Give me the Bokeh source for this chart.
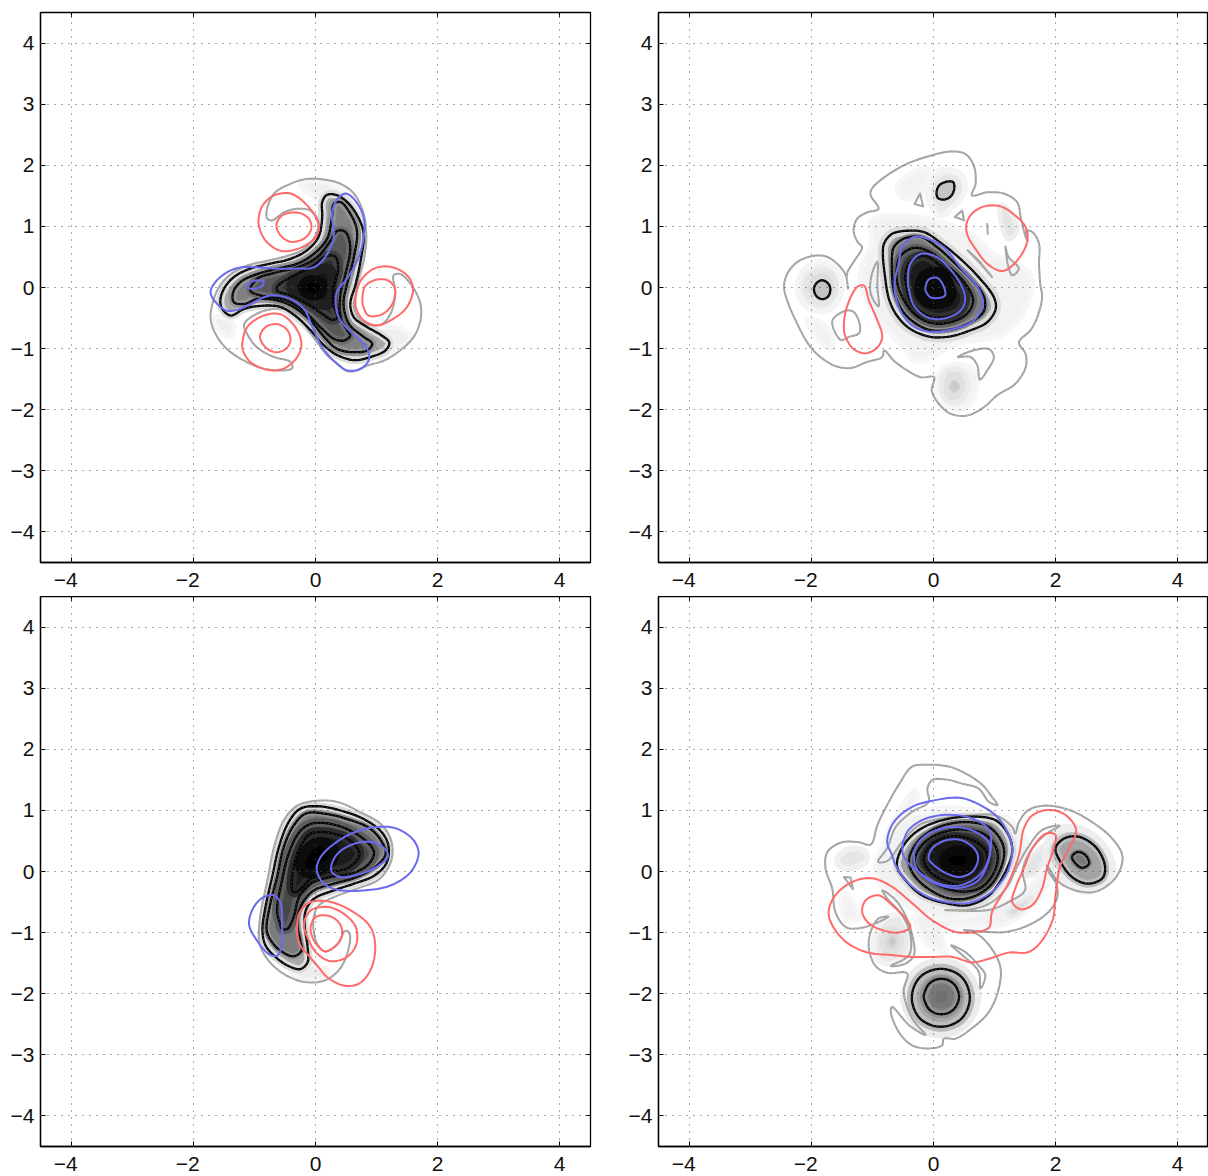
import numpy as np
from bokeh.plotting import figure
from bokeh.layouts import column, row
from bokeh.models import FixedTicker, LinearAxis, Range1d
from bokeh.embed import file_html
from bokeh.resources import INLINE

X_TICKS = [-4, -2, 0, 2, 4]
Y_TICKS = [-4, -3, -2, -1, 0, 1, 2, 3, 4]
TICK_LABELS = {-4: "\u22124", -3: "\u22123", -2: "\u22122", -1: "\u22121", 0: "0", 1: "1", 2: "2", 3: "3", 4: "4"}

# ---- panel A (top left) ----
A_GRAY = [(-0.08,1.26),(-0.30,1.29),(-0.52,1.23),(-0.71,1.10),(-0.79,1.13),(-0.80,1.26),(-0.68,1.54),(-0.41,1.70),(-0.14,1.78),(0.14,1.77),(0.41,1.70),(0.63,1.54),(0.79,1.21),(0.83,0.83),(0.79,0.44),(0.71,0.17),(0.66,-0.10),(0.63,-0.32),(0.74,-0.54),(0.93,-0.62),(1.09,-0.60),(1.23,-0.43),(1.31,-0.10),(1.28,0.20),(1.39,0.22),(1.58,0.03),(1.72,-0.27),(1.72,-0.54),(1.61,-0.81),(1.39,-1.03),(1.12,-1.20),(0.85,-1.28),(0.68,-1.36),(0.52,-1.37),(0.36,-1.25),(0.19,-1.11),(0.03,-0.90),(-0.19,-0.60),(-0.41,-0.38),(-0.68,-0.35),(-0.96,-0.43),(-1.17,-0.60),(-1.12,-0.76),(-0.96,-0.98),(-0.68,-1.14),(-0.41,-1.22),(-0.38,-1.32),(-0.52,-1.36),(-0.85,-1.33),(-1.17,-1.20),(-1.45,-1.01),(-1.64,-0.76),(-1.72,-0.51),(-1.69,-0.27),(-1.58,0.01),(-1.39,0.22),(-1.12,0.36),(-0.79,0.44),(-0.46,0.52),(-0.19,0.63),(0,0.85),(0.05,1.07)]
A_K1 = [(-1.53,-0.35),(-1.56,-0.21),(-1.50,-0.02),(-1.34,0.17),(-1.07,0.31),(-0.74,0.39),(-0.41,0.47),(-0.14,0.61),(0.05,0.83),(0.11,1.15),(0.11,1.40),(0.19,1.52),(0.36,1.51),(0.55,1.37),(0.71,1.13),(0.79,0.88),(0.74,0.44),(0.66,0.06),(0.57,-0.27),(0.63,-0.49),(0.85,-0.65),(1.09,-0.79),(1.21,-0.90),(1.15,-1.03),(0.90,-1.14),(0.63,-1.19),(0.36,-1.11),(0.14,-0.95),(-0.08,-0.70),(-0.30,-0.49),(-0.57,-0.32),(-0.90,-0.30),(-1.17,-0.35),(-1.39,-0.46)]
A_K2 = [(-1.34,-0.24),(-1.35,-0.08),(-1.23,0.09),(-0.96,0.22),(-0.63,0.31),(-0.30,0.39),(-0.03,0.55),(0.19,0.80),(0.27,1.15),(0.30,1.37),(0.41,1.40),(0.57,1.21),(0.68,0.93),(0.63,0.50),(0.52,0.06),(0.46,-0.27),(0.55,-0.60),(0.79,-0.81),(0.93,-0.92),(0.85,-1.03),(0.63,-1.06),(0.36,-1.01),(0.14,-0.81),(-0.08,-0.54),(-0.36,-0.32),(-0.63,-0.21),(-0.96,-0.19),(-1.17,-0.27)]
A_K3 = [(-1.07,-0.05),(-0.96,0.14),(-0.63,0.25),(-0.30,0.33),(0.03,0.50),(0.25,0.77),(0.36,0.93),(0.49,0.91),(0.57,0.66),(0.49,0.22),(0.41,-0.10),(0.41,-0.49),(0.52,-0.70),(0.57,-0.79),(0.46,-0.87),(0.30,-0.84),(0.08,-0.65),(-0.14,-0.43),(-0.41,-0.24),(-0.68,-0.16),(-0.90,-0.13)]
A_K4 = [(-0.63,0.01),(-0.41,0.17),(-0.08,0.33),(0.19,0.52),(0.33,0.50),(0.37,0.28),(0.30,0.01),(0.29,-0.27),(0.36,-0.49),(0.27,-0.53),(0.11,-0.43),(-0.14,-0.27),(-0.41,-0.13),(-0.63,-0.05)]
A_MID = [(-0.41,0.01),(-0.22,0.20),(0.11,0.31),(0.25,0.28),(0.26,0.01),(0.22,-0.27),(0.03,-0.27),(-0.25,-0.13)]
A_CORE = [(-0.22,0.01),(-0.16,0.11),(-0.03,0.14),(0.11,0.09),(0.13,-0.02),(0.05,-0.13),(-0.11,-0.13),(-0.19,-0.08)]
A_LIGHT1 = [(0.90,-0.70),(1.18,-0.65),(1.45,-0.70),(1.56,-0.81),(1.34,-1.03),(1.01,-1.17),(0.90,-0.98)]
A_LIGHT2 = [(-1.67,-0.49),(-1.53,-0.49),(-1.34,-0.60),(-1.39,-0.81),(-1.58,-0.70)]
A_LIGHT3 = [(-0.25,1.70),(0.14,1.73),(0.52,1.56),(0.68,1.37),(0.36,1.54),(0.14,1.40),(-0.05,1.50)]
A_B1 = [(-1.72,-0.08),(-1.64,0.09),(-1.45,0.25),(-1.23,0.33),(-0.96,0.33),(-0.63,0.31),(-0.30,0.31),(-0.03,0.33),(0.16,0.50),(0.30,0.83),(0.27,1.21),(0.36,1.45),(0.49,1.54),(0.63,1.45),(0.79,1.15),(0.79,0.83),(0.71,0.50),(0.60,0.28),(0.49,0.11),(0.36,-0.05),(0.33,-0.24),(0.38,-0.49),(0.55,-0.70),(0.74,-0.87),(0.87,-1.06),(0.87,-1.20),(0.74,-1.33),(0.52,-1.36),(0.30,-1.20),(0.11,-0.98),(-0.05,-0.65),(-0.19,-0.35),(-0.41,-0.19),(-0.74,-0.13),(-1.01,-0.24),(-1.23,-0.35),(-1.45,-0.38),(-1.61,-0.27)]
A_B2 = [(-1.12,0.03),(-1.01,0.11),(-0.85,0.10),(-0.87,0.03),(-1.07,-0.02)]
A_R1 = [(-0.93,1.15),(-0.87,1.34),(-0.68,1.51),(-0.41,1.54),(-0.16,1.37),(0.03,1.10),(0.05,0.93),(-0.05,0.77),(-0.30,0.63),(-0.57,0.60),(-0.82,0.77),(-0.93,1.02)]
A_R2 = [(-0.64,1.02),(-0.55,1.18),(-0.30,1.23),(-0.11,1.13),(-0.07,0.96),(-0.19,0.80),(-0.41,0.75),(-0.57,0.85)]
A_R3 = [(0.66,-0.16),(0.74,0.11),(0.96,0.31),(1.23,0.34),(1.50,0.20),(1.60,-0.02),(1.50,-0.32),(1.28,-0.51),(1.01,-0.62),(0.79,-0.54),(0.67,-0.35)]
A_R4 = [(0.77,-0.16),(0.82,0.03),(1.01,0.13),(1.20,0.11),(1.30,-0.02),(1.26,-0.27),(1.09,-0.44),(0.87,-0.46),(0.78,-0.30)]
A_R5 = [(-1.20,-0.92),(-1.12,-0.65),(-0.85,-0.46),(-0.57,-0.44),(-0.33,-0.65),(-0.23,-0.92),(-0.30,-1.14),(-0.52,-1.33),(-0.79,-1.35),(-1.07,-1.22),(-1.19,-1.03)]
A_R6 = [(-0.91,-0.81),(-0.82,-0.65),(-0.63,-0.60),(-0.46,-0.70),(-0.41,-0.87),(-0.49,-1.01),(-0.66,-1.06),(-0.82,-0.98)]

# ---- panel B (top right) ----
B_GRAY = [(-2.45,0.01),(-2.40,0.22),(-2.23,0.42),(-1.96,0.52),(-1.74,0.50),(-1.55,0.36),(-1.44,0.20),(-1.40,-0.02),(-1.42,0.22),(-1.31,0.42),(-1.17,0.66),(-1.24,0.74),(-1.31,0.93),(-1.25,1.13),(-1.09,1.23),(-0.90,1.29),(-1.03,1.51),(-1.01,1.62),(-0.76,1.84),(-0.43,2.03),(-0.05,2.16),(0.28,2.23),(0.52,2.19),(0.66,2.00),(0.69,1.70),(0.63,1.51),(0.88,1.56),(1.15,1.54),(1.37,1.40),(1.43,1.15),(1.51,0.83),(1.54,0.77),(1.52,0.93),(1.62,0.91),(1.73,0.72),(1.73,0.39),(1.75,0.06),(1.78,-0.16),(1.70,-0.49),(1.59,-0.70),(1.40,-0.90),(1.51,-1.09),(1.51,-1.31),(1.34,-1.58),(1.04,-1.77),(0.83,-1.96),(0.55,-2.10),(0.28,-2.07),(0.09,-1.91),(-0.03,-1.69),(0.01,-1.47),(-0.21,-1.47),(-0.43,-1.36),(-0.65,-1.20),(-0.81,-1.03),(-0.84,-1.14),(-1.09,-1.22),(-1.36,-1.32),(-1.63,-1.28),(-1.91,-1.09),(-2.07,-0.90),(-2.26,-0.54),(-2.40,-0.21)]
B_H1 = [(-0.92,0.42),(-1.01,0.22),(-1.03,-0.10),(-0.90,-0.31),(-0.92,0.01)]
B_H2 = [(-1.66,-0.55),(-1.44,-0.38),(-1.31,-0.40),(-1.21,-0.60),(-1.22,-0.75),(-1.39,-0.81),(-1.52,-0.86)]
B_H3 = [(-0.22,1.54),(-0.31,1.37),(-0.17,1.33)]
B_H4 = [(0.47,1.26),(0.35,1.16),(0.50,1.10)]
B_H5 = [(0.88,1.04),(0.89,0.88)]
B_H6 = [(1.18,0.67),(1.23,0.50),(1.40,0.31),(1.29,0.20),(1.23,0.33)]
B_H7 = [(0.56,0.61),(0.74,0.44),(0.96,0.17),(0.77,0.39)]
B_H8 = [(0.40,-1.14),(0.66,-1.03),(0.91,-1.01),(0.99,-1.14),(0.88,-1.36),(0.76,-1.51),(0.72,-1.28),(0.61,-1.14)]
B_K_LEFT = [(-1.96,-0.03),(-1.92,0.07),(-1.83,0.12),(-1.73,0.07),(-1.69,-0.03),(-1.73,-0.15),(-1.83,-0.19),(-1.92,-0.14)]
B_K_TOP = [(0.05,1.56),(0.09,1.67),(0.20,1.73),(0.32,1.73),(0.34,1.62),(0.28,1.49),(0.16,1.44),(0.07,1.47)]
B_K1 = [(-0.83,0.55),(-0.81,0.72),(-0.68,0.88),(-0.43,0.93),(-0.16,0.91),(0.11,0.74),(0.44,0.47),(0.74,0.17),(0.99,-0.16),(1.02,-0.35),(0.88,-0.57),(0.61,-0.70),(0.28,-0.80),(-0.05,-0.81),(-0.38,-0.68),(-0.60,-0.46),(-0.73,-0.19),(-0.80,0.22)]
B_K2 = [(-0.68,0.50),(-0.65,0.66),(-0.49,0.80),(-0.21,0.83),(0.06,0.66),(0.39,0.36),(0.66,0.09),(0.83,-0.16),(0.83,-0.38),(0.66,-0.54),(0.33,-0.68),(-0.05,-0.70),(-0.32,-0.57),(-0.51,-0.38),(-0.65,-0.05)]
B_K3 = [(-0.60,0.33),(-0.54,0.52),(-0.32,0.65),(-0.05,0.58),(0.22,0.36),(0.50,0.09),(0.65,-0.21),(0.55,-0.43),(0.28,-0.57),(-0.05,-0.58),(-0.32,-0.43),(-0.51,-0.16),(-0.60,0.11)]
B_K4 = [(-0.46,0.22),(-0.38,0.42),(-0.16,0.52),(0.11,0.36),(0.39,0.11),(0.52,-0.16),(0.44,-0.38),(0.17,-0.49),(-0.10,-0.46),(-0.35,-0.27),(-0.44,0.01)]
B_B1 = [(-0.57,0.39),(-0.51,0.66),(-0.32,0.83),(-0.10,0.80),(0.17,0.66),(0.44,0.33),(0.72,0.01),(0.81,-0.27),(0.66,-0.54),(0.33,-0.68),(-0.10,-0.72),(-0.38,-0.60),(-0.57,-0.32),(-0.64,0.06)]
B_B2 = [(-0.42,0.11),(-0.38,0.39),(-0.21,0.55),(0.01,0.52),(0.22,0.36),(0.44,0.06),(0.52,-0.19),(0.44,-0.38),(0.17,-0.51),(-0.10,-0.49),(-0.32,-0.30),(-0.40,-0.05)]
B_B3 = [(-0.13,0.01),(-0.08,0.13),(0.06,0.16),(0.17,0.01),(0.19,-0.13),(0.09,-0.17),(-0.05,-0.16),(-0.13,-0.05)]
B_R1 = [(0.54,1.04),(0.63,1.21),(0.83,1.33),(1.10,1.33),(1.34,1.18),(1.51,0.99),(1.54,0.77),(1.43,0.52),(1.23,0.31),(1.10,0.27),(0.88,0.39),(0.69,0.63),(0.56,0.85)]
B_R2 = [(-1.47,-0.65),(-1.42,-0.32),(-1.25,0.01),(-1.14,0.03),(-1.06,-0.21),(-0.92,-0.54),(-0.84,-0.81),(-0.92,-0.98),(-1.11,-1.08),(-1.31,-1.01),(-1.44,-0.81)]
B_BIG = [(-1.03,1.10),(-0.21,1.15),(0.61,0.88),(0.99,0.55),(1.59,0.22),(1.54,-0.27),(1.15,-0.76),(0.39,-0.92),(-0.27,-1.22),(-0.49,-0.98),(-0.81,-0.65),(-1.09,-0.21),(-1.20,0.22),(-1.01,0.77)]
B_LEFT1 = [(-2.23,0.01),(-2.12,0.28),(-1.83,0.42),(-1.55,0.22),(-1.52,-0.10),(-1.74,-0.38),(-2.07,-0.32)]
B_LEFT2 = [(-2.10,-0.02),(-2.02,0.20),(-1.83,0.27),(-1.63,0.17),(-1.61,-0.10),(-1.77,-0.26),(-1.99,-0.21)]
B_TOP1 = [(-0.08,1.70),(0.11,1.92),(0.44,1.86),(0.52,1.64),(0.39,1.40),(0.11,1.18),(-0.05,1.37)]
B_TOP2 = [(0.03,1.64),(0.20,1.80),(0.39,1.73),(0.42,1.59),(0.22,1.37),(0.06,1.43)]
B_TOPLEFT = [(-0.60,1.64),(-0.38,1.86),(-0.10,1.95),(-0.10,1.70),(-0.27,1.48),(-0.51,1.48)]
B_RIGHT = [(1.10,1.35),(1.26,1.23),(1.37,0.93),(1.23,0.80),(1.13,0.99)]
B_BOT0 = [(0.06,-1.42),(0.39,-1.25),(0.72,-1.42),(0.69,-1.69),(0.55,-1.96),(0.22,-1.96),(0.03,-1.69)]
B_BOT1 = [(0.14,-1.52),(0.22,-1.36),(0.44,-1.36),(0.56,-1.58),(0.47,-1.83),(0.28,-1.88),(0.14,-1.74)]
B_BOT2 = [(0.26,-1.62),(0.34,-1.52),(0.43,-1.62),(0.34,-1.72)]
B_LL = [(-2.07,-0.54),(-1.85,-0.57),(-1.66,-0.81),(-1.66,-1.01),(-1.88,-0.87)]

# ---- panel C (bottom left) ----
C_GRAY = [(-0.93,-1.08),(-0.90,-0.69),(-0.79,-0.15),(-0.68,0.40),(-0.52,0.84),(-0.30,1.08),(0.03,1.16),(0.36,1.14),(0.74,0.97),(1.07,0.78),(1.23,0.54),(1.26,0.26),(1.17,0.02),(1.01,-0.15),(0.68,-0.28),(0.30,-0.42),(0.05,-0.56),(-0.03,-0.75),(-0.03,-0.97),(0.03,-1.19),(0.16,-1.31),(0.36,-1.19),(0.49,-0.97),(0.56,-1.02),(0.52,-1.35),(0.38,-1.62),(0.14,-1.79),(-0.19,-1.81),(-0.52,-1.68),(-0.77,-1.46),(-0.90,-1.24)]
C_K1 = [(-0.87,-0.97),(-0.82,-0.58),(-0.71,-0.09),(-0.60,0.40),(-0.44,0.81),(-0.25,1.03),(0.03,1.07),(0.41,1.00),(0.79,0.86),(1.09,0.64),(1.20,0.40),(1.16,0.13),(0.96,-0.07),(0.63,-0.20),(0.30,-0.31),(-0.03,-0.45),(-0.16,-0.64),(-0.18,-0.86),(-0.13,-1.24),(-0.13,-1.49),(-0.25,-1.60),(-0.46,-1.54),(-0.68,-1.38),(-0.82,-1.21)]
C_K2 = [(-0.80,-0.97),(-0.74,-0.53),(-0.63,-0.09),(-0.52,0.40),(-0.36,0.75),(-0.16,0.95),(0.14,0.95),(0.52,0.86),(0.90,0.70),(1.09,0.48),(1.15,0.29),(1.01,0.10),(0.68,-0.09),(0.30,-0.20),(-0.03,-0.31),(-0.22,-0.53),(-0.30,-0.80),(-0.25,-1.13),(-0.23,-1.30),(-0.36,-1.39),(-0.57,-1.30),(-0.71,-1.16)]
C_K3 = [(-0.58,-0.86),(-0.63,-0.64),(-0.55,-0.15),(-0.44,0.29),(-0.27,0.64),(-0.08,0.78),(0.25,0.78),(0.63,0.64),(0.90,0.43),(0.96,0.29),(0.85,0.10),(0.57,-0.04),(0.25,-0.09),(-0.08,-0.20),(-0.27,-0.42),(-0.36,-0.75),(-0.46,-0.94),(-0.55,-0.94)]
C_K4 = [(-0.39,-0.26),(-0.36,0.07),(-0.25,0.40),(-0.08,0.62),(0.19,0.64),(0.52,0.54),(0.71,0.34),(0.70,0.21),(0.49,0.04),(0.19,-0.01),(-0.08,-0.12),(-0.27,-0.31),(-0.36,-0.34)]
C_CORE = [(-0.25,0.07),(-0.16,0.34),(0.03,0.48),(0.25,0.43),(0.30,0.23),(0.14,0.07),(-0.08,-0.04)]
C_LIGHT = [(-0.11,-1.51),(0.05,-1.57),(0.19,-1.60),(0.14,-1.73),(-0.19,-1.78),(-0.41,-1.62)]
C_B1 = [(0.02,0.02),(0.08,0.23),(0.30,0.45),(0.63,0.64),(1.01,0.73),(1.34,0.70),(1.61,0.51),(1.69,0.29),(1.56,-0.01),(1.23,-0.23),(0.79,-0.31),(0.36,-0.30),(0.14,-0.20)]
C_B2 = [(0.26,0.10),(0.36,0.29),(0.57,0.43),(0.85,0.49),(1.07,0.43),(1.19,0.26),(1.04,0.10),(0.74,-0.04),(0.41,-0.09),(0.27,-0.01)]
C_B3 = [(-1.09,-0.86),(-1.01,-0.58),(-0.85,-0.42),(-0.68,-0.39),(-0.57,-0.53),(-0.55,-0.86),(-0.55,-1.19),(-0.63,-1.38),(-0.77,-1.35),(-0.96,-1.13)]
C_R1 = [(-0.30,-0.97),(-0.27,-0.69),(-0.08,-0.50),(0.25,-0.50),(0.63,-0.67),(0.90,-0.91),(0.98,-1.24),(0.90,-1.62),(0.71,-1.84),(0.46,-1.87),(0.19,-1.73),(0.05,-1.57),(-0.11,-1.38),(-0.25,-1.21)]
C_R2 = [(-0.19,-0.86),(-0.08,-0.64),(0.19,-0.58),(0.46,-0.69),(0.66,-0.91),(0.67,-1.19),(0.52,-1.40),(0.25,-1.47),(0.03,-1.35),(-0.11,-1.13)]
C_R3 = [(-0.08,-0.91),(0,-0.75),(0.19,-0.72),(0.38,-0.83),(0.44,-1.02),(0.36,-1.19),(0.16,-1.31),(0.03,-1.21),(-0.05,-1.08)]

# ---- panel D (bottom right) ----
D_GRAY = [(1.34,0.62),(1.40,0.81),(1.56,1.01),(1.84,1.08),(2.22,1.01),(2.60,0.81),(2.93,0.54),(3.10,0.24),(2.98,-0.11),(2.66,-0.33),(2.33,-0.31),(2.05,-0.17),(1.86,0.10),(1.89,-0.01),(2.01,-0.20),(2.03,-0.42),(1.89,-0.66),(1.56,-0.88),(1.18,-0.99),(0.85,-0.99),(0.50,-0.96),(0.74,-1.04),(0.99,-1.32),(1.10,-1.59),(1.07,-1.92),(0.91,-2.30),(0.63,-2.57),(0.36,-2.74),(0.17,-2.74),(0.14,-2.85),(-0.08,-2.90),(-0.35,-2.85),(-0.57,-2.63),(-0.70,-2.30),(-0.68,-2.22),(-0.40,-2.52),(-0.13,-2.68),(-0.35,-2.41),(-0.49,-1.97),(-0.43,-1.67),(-0.76,-1.66),(-0.95,-1.55),(-1.06,-1.26),(-1.03,-0.99),(-0.90,-0.77),(-0.74,-0.74),(-0.95,-0.85),(-1.22,-0.93),(-1.44,-0.91),(-1.61,-0.66),(-1.66,-0.28),(-1.77,0.05),(-1.74,0.32),(-1.50,0.48),(-1.22,0.48),(-1.03,0.44),(-0.92,0.76),(-0.76,1.09),(-0.57,1.42),(-0.35,1.72),(-0.08,1.75),(0.25,1.72),(0.52,1.61),(0.80,1.42),(0.96,1.22),(1.05,1.09),(0.91,1.14),(0.74,1.36),(0.47,1.44),(0.20,1.51),(-0.02,1.50),(-0.10,1.36),(-0.08,1.14),(-0.35,0.98),(-0.62,0.73),(-0.76,0.38),(-0.91,0.16),(-0.76,0.17),(-0.51,0.49),(-0.24,0.76),(0.14,0.87),(0.63,0.92),(1.02,0.92),(1.29,0.73)]
D_G2 = [(-0.84,-0.31),(-0.65,-0.44),(-0.49,-0.66),(-0.35,-1.04),(-0.32,-1.37),(-0.46,-1.51),(-0.70,-1.55),(-0.40,-1.37),(-0.38,-1.04),(-0.51,-0.72),(-0.76,-0.44)]
D_G3 = [(0.19,-0.63),(0.63,-0.62),(0.96,-0.50),(1.21,-0.25),(1.34,0.02),(1.54,0.38),(1.78,0.68),(2.07,0.75),(1.84,0.61),(1.62,0.38),(1.46,0.02),(1.50,-0.31),(1.23,-0.50),(0.91,-0.63)]
D_G4 = [(-1.47,-0.09),(-1.36,-0.10),(-1.32,-0.29)]
D_G5 = [(0.29,-1.21),(0.52,-1.32),(0.74,-1.54),(0.85,-1.70),(0.77,-1.92),(0.74,-1.64),(0.47,-1.37)]
D_B1 = [(-0.68,0.27),(-0.76,0.49),(-0.65,0.81),(-0.35,1.06),(0.03,1.17),(0.42,1.21),(0.66,1.14),(1.02,0.92),(1.21,0.65),(1.29,0.38),(1.21,-0.01),(0.96,-0.33),(0.63,-0.50),(0.36,-0.52),(-0.08,-0.42),(-0.40,-0.20),(-0.62,0.10)]
D_B2 = [(-0.51,0.32),(-0.43,0.65),(-0.19,0.84),(0.20,0.93),(0.63,0.87),(0.91,0.68),(0.93,0.32),(0.80,-0.01),(0.47,-0.22),(0.09,-0.20),(-0.24,-0.01),(-0.43,0.16)]
D_B3 = [(-0.30,0.10),(-0.30,0.38),(-0.08,0.62),(0.31,0.73),(0.69,0.65),(0.91,0.46),(0.91,0.21),(0.74,-0.14),(0.42,-0.27),(0.09,-0.22),(-0.19,-0.06)]
D_B4 = [(-0.08,0.21),(-0.02,0.38),(0.20,0.51),(0.47,0.51),(0.69,0.35),(0.73,0.19),(0.63,-0.01),(0.42,-0.09),(0.17,-0.01),(-0.02,0.13)]
D_K1 = [(-0.60,0.10),(-0.49,0.43),(-0.24,0.68),(0.14,0.84),(0.63,0.90),(1.02,0.84),(1.23,0.60),(1.29,0.32),(1.15,-0.06),(0.91,-0.39),(0.58,-0.55),(0.20,-0.52),(-0.19,-0.39),(-0.46,-0.14)]
D_K2 = [(-0.40,0.21),(-0.24,0.51),(0.09,0.73),(0.52,0.81),(0.91,0.73),(1.13,0.46),(1.15,0.21),(0.96,-0.20),(0.63,-0.42),(0.25,-0.44),(-0.13,-0.25),(-0.35,-0.01)]
D_K3 = [(-0.31,0.16),(-0.19,0.43),(0.09,0.62),(0.47,0.69),(0.85,0.60),(1.04,0.35),(1.02,0.05),(0.80,-0.25),(0.47,-0.33),(0.14,-0.25),(-0.16,-0.06)]
D_K4 = [(-0.16,0.21),(-0.05,0.43),(0.25,0.57),(0.58,0.54),(0.85,0.35),(0.88,0.10),(0.69,-0.14),(0.42,-0.22),(0.09,-0.11),(-0.10,0.05)]
D_CORE = [(0.17,0.19),(0.25,0.30),(0.42,0.35),(0.61,0.27),(0.61,0.10),(0.44,0.02),(0.25,0.05)]
D_RK1 = [(2.00,0.38),(2.14,0.54),(2.38,0.57),(2.66,0.40),(2.81,0.10),(2.77,-0.11),(2.52,-0.20),(2.27,-0.09),(2.08,0.16)]
D_RK2 = [(2.27,0.24),(2.36,0.32),(2.49,0.27),(2.55,0.13),(2.44,0.06),(2.33,0.13)]
D_RHALO = [(1.84,0.38),(2.05,0.68),(2.44,0.68),(2.77,0.43),(2.93,0.05),(2.77,-0.22),(2.44,-0.31),(2.11,-0.11),(1.89,0.10)]
D_BK1 = [(-0.355,-2.07),(-0.32,-1.89),(-0.22,-1.73),(-0.06,-1.63),(0.12,-1.595),(0.30,-1.63),(0.46,-1.73),(0.56,-1.89),(0.595,-2.07),(0.56,-2.25),(0.46,-2.41),(0.30,-2.51),(0.12,-2.545),(-0.06,-2.51),(-0.22,-2.41),(-0.32,-2.25)]
D_BK2 = [(-0.16,-2.05),(-0.125,-1.93),(-0.075,-1.845),(0.02,-1.78),(0.13,-1.76),(0.24,-1.78),(0.335,-1.845),(0.39,-1.93),(0.42,-2.05),(0.39,-2.17),(0.335,-2.255),(0.24,-2.32),(0.13,-2.34),(0.02,-2.32),(-0.075,-2.255),(-0.125,-2.17)]
D_BHALO = [(-0.48,-2.07),(-0.42,-1.84),(-0.30,-1.65),(-0.11,-1.52),(0.12,-1.47),(0.35,-1.52),(0.54,-1.65),(0.66,-1.84),(0.72,-2.07),(0.66,-2.30),(0.54,-2.49),(0.35,-2.62),(0.12,-2.67),(-0.11,-2.62),(-0.30,-2.49),(-0.42,-2.30)]
D_BCORE = [(-0.02,-2.05),(0.02,-1.94),(0.13,-1.90),(0.24,-1.94),(0.28,-2.05),(0.24,-2.16),(0.13,-2.20),(0.02,-2.16)]
D_R1 = [(-1.72,-0.66),(-1.61,-0.39),(-1.33,-0.17),(-1.01,-0.11),(-0.68,-0.25),(-0.35,-0.52),(-0.02,-0.80),(0.36,-0.99),(0.69,-0.99),(0.91,-0.92),(0.96,-0.66),(1.21,-0.22),(1.40,0.27),(1.48,0.70),(1.62,0.92),(1.89,1.01),(2.16,0.93),(2.34,0.68),(2.22,0.38),(2.08,0.10),(2.00,-0.39),(1.96,-0.77),(1.78,-1.13),(1.56,-1.32),(1.23,-1.33),(0.91,-1.43),(0.63,-1.49),(0.31,-1.40),(-0.02,-1.40),(-0.35,-1.40),(-0.68,-1.37),(-1.11,-1.32),(-1.44,-1.15),(-1.66,-0.88)]
D_R2 = [(1.29,-0.50),(1.34,-0.28),(1.48,0.05),(1.62,0.38),(1.84,0.62),(2.00,0.60),(1.97,0.38),(1.86,0.05),(1.78,-0.28),(1.62,-0.55),(1.43,-0.62)]
D_R3 = [(-1.17,-0.66),(-1.11,-0.47),(-0.90,-0.39),(-0.68,-0.55),(-0.46,-0.77),(-0.38,-0.91),(-0.57,-1.00),(-0.84,-0.96),(-1.06,-0.85)]
D_LL1 = [(-0.98,-1.15),(-0.79,-0.77),(-0.54,-0.72),(-0.38,-1.04),(-0.43,-1.37),(-0.73,-1.51),(-0.92,-1.43)]
D_LL2 = [(-0.84,-1.15),(-0.70,-0.93),(-0.54,-1.04),(-0.57,-1.26),(-0.76,-1.32)]
D_LL3 = [(-0.72,-1.13),(-0.67,-1.07),(-0.62,-1.15),(-0.68,-1.21)]
D_UL = [(-1.58,0.21),(-1.39,0.37),(-1.11,0.32),(-1.11,0.16),(-1.39,0.05),(-1.55,0.10)]
D_STREAK1 = [(-0.62,0.90),(-0.30,1.33),(-0.27,1.20),(-0.40,0.98),(-0.73,0.65)]
D_LEFT = [(-1.50,-0.33),(-1.33,-0.50),(-1.22,-0.77),(-1.44,-0.80)]
D_BIG = [(-0.95,0.10),(-0.62,0.76),(-0.08,1.01),(0.69,1.01),(1.23,0.87),(1.56,0.38),(1.34,0.05),(1.12,-0.44),(0.63,-0.72),(0.14,-0.77),(-0.24,-0.66),(-0.68,-0.39),(-0.90,-0.17)]
D_BAND = [(-0.30,-0.72),(-0.13,-1.15),(0.20,-1.32),(0.14,-0.99),(0.47,-0.88),(1.13,-0.88),(1.62,-0.55),(1.89,-0.11),(1.84,0.10),(1.56,-0.28),(1.18,-0.50),(0.63,-0.72),(0.14,-0.77)]
D_STREAK2 = [(1.21,-0.66),(1.40,-0.52),(1.62,-0.42),(1.46,-0.63),(1.28,-0.74)]
D_STREAK3 = [(1.46,-0.06),(1.67,0.32),(1.84,0.43),(1.84,0.27),(1.62,-0.06)]

FONT = "Liberation Sans"
GRAY, RED, BLUE, BLACK = "#a0a0a0", "#ff6a6a", "#6a6af0", "#000000"


def curve(pts, steps=6):
    """Draw-time curve through the traced vertices of a closed contour (centripetal Catmull-Rom)."""
    v = np.array(pts, dtype=float)
    n = len(v)
    if n < 4:
        return np.append(v[:, 0], v[0, 0]), np.append(v[:, 1], v[0, 1])
    out = []
    for i in range(n):
        p0, p1, p2, p3 = v[(i - 1) % n], v[i], v[(i + 1) % n], v[(i + 2) % n]
        t0 = 0.0
        t1 = t0 + max(np.linalg.norm(p1 - p0), 1e-6) ** 0.5
        t2 = t1 + max(np.linalg.norm(p2 - p1), 1e-6) ** 0.5
        t3 = t2 + max(np.linalg.norm(p3 - p2), 1e-6) ** 0.5
        for t in np.linspace(t1, t2, steps, endpoint=False):
            a1 = (t1 - t) / (t1 - t0) * p0 + (t - t0) / (t1 - t0) * p1
            a2 = (t2 - t) / (t2 - t1) * p1 + (t - t1) / (t2 - t1) * p2
            a3 = (t3 - t) / (t3 - t2) * p2 + (t - t2) / (t3 - t2) * p3
            b1 = (t2 - t) / (t2 - t0) * a1 + (t - t0) / (t2 - t0) * a2
            b2 = (t3 - t) / (t3 - t1) * a2 + (t - t1) / (t3 - t1) * a3
            out.append((t2 - t) / (t2 - t1) * b1 + (t - t1) / (t2 - t1) * b2)
    out.append(out[0])
    out = np.array(out)
    return out[:, 0], out[:, 1]


def make(left, right, top, bottom):
    p = figure(frame_width=550, frame_height=550, x_range=Range1d(-4.508, 4.508), y_range=Range1d(-4.508, 4.508),
               toolbar_location=None, output_backend="svg", min_border_left=left, min_border_right=right,
               min_border_top=top, min_border_bottom=bottom, background_fill_color="white",
               x_axis_location="below", y_axis_location="left")
    p.outline_line_color = "black"
    p.outline_line_width = 1.3
    for ax, ticks in ((p.xaxis[0], X_TICKS), (p.yaxis[0], Y_TICKS)):
        ax.ticker = FixedTicker(ticks=ticks)
        ax.major_label_text_font = FONT
        ax.major_label_text_font_size = "21px"
        ax.major_label_text_color = "#111111"
        ax.major_tick_in = 5
        ax.major_tick_out = 0
        ax.minor_tick_in = 0
        ax.minor_tick_out = 0
        ax.axis_line_color = "black"
        ax.axis_line_width = 1.3
        ax.major_tick_line_color = "black"
    # the digit, not the whole signed label, sits centred under the tick
    p.xaxis[0].major_label_overrides = {t: TICK_LABELS[t] + ("\u00a0\u00a0" if t < 0 else "") for t in X_TICKS}
    p.yaxis[0].major_label_overrides = {t: TICK_LABELS[t] for t in Y_TICKS}
    p.xaxis[0].major_label_standoff = 5
    p.yaxis[0].major_label_standoff = 6
    for g, ticks in ((p.xgrid[0], X_TICKS), (p.ygrid[0], Y_TICKS)):
        g.ticker = FixedTicker(ticks=ticks)
        g.grid_line_color = "#555555"
        g.grid_line_dash = "1 6"
        g.grid_line_width = 1
        g.level = "overlay"
    for loc, ticks in (("right", Y_TICKS), ("above", X_TICKS)):
        ax = LinearAxis(ticker=FixedTicker(ticks=ticks), major_tick_in=5, major_tick_out=0, minor_tick_in=0,
                        minor_tick_out=0, major_label_overrides={t: "" for t in ticks},
                        major_label_text_font_size="0px", major_label_standoff=0)
        p.add_layout(ax, loc)
    return p


def shade(p, pts, fill, halo=None, w=6):
    xs, ys = curve(pts)
    p.patch(xs.tolist(), ys.tolist(), fill_color=fill, line_color=halo or fill, line_width=w if halo else 0.5, line_join="round")


def trace(p, pts, color, w=2.0, texture=False):
    xs, ys = curve(pts)
    p.line(xs.tolist(), ys.tolist(), line_color=color, line_width=w, line_join="round", line_cap="round")
    if texture:
        p.line(xs.tolist(), ys.tolist(), line_color="white", line_alpha=0.25, line_width=0.8, line_dash="2 2")


def many(p, lines, color, w=2.0, texture=False):
    for pts in lines:
        trace(p, pts, color, w, texture)


# panel A
a = make(40, 30, 12, 34)
for pts in (A_LIGHT1, A_LIGHT2, A_LIGHT3):
    shade(a, pts, "#efefef", "#f6f6f6", 5)
shade(a, A_K1, "#a8a8a8", "#dcdcdc", 8)
shade(a, A_K2, "#808080", "#949494", 8)
shade(a, A_K3, "#585858", "#6c6c6c", 8)
shade(a, A_K4, "#2c2c2c", "#404040", 10)
shade(a, A_MID, "#161616", "#202020", 10)
shade(a, A_CORE, "#000000", "#0a0a0a", 8)
trace(a, A_GRAY, GRAY, 2.0, True)
many(a, [A_K1, A_K2, A_K3, A_K4], BLACK, 2.3, True)
many(a, [A_B1, A_B2], BLUE)
many(a, [A_R1, A_R2, A_R3, A_R4, A_R5, A_R6], RED)

# panel B
b = make(38, 0, 12, 34)
for pts in (B_BIG, B_TOPLEFT, B_LL, B_BOT0):
    shade(b, pts, "#f2f2f2", "#f6f6f6", 5)
shade(b, B_LEFT1, "#ececec", "#f4f4f4", 6)
shade(b, B_LEFT2, "#dddddd", "#e6e6e6", 5)
shade(b, B_K_LEFT, "#c4c4c4")
shade(b, B_TOP1, "#ececec", "#f4f4f4", 6)
shade(b, B_TOP2, "#dddddd", "#e6e6e6", 5)
shade(b, B_K_TOP, "#c4c4c4")
shade(b, B_RIGHT, "#e4e4e4", "#eeeeee", 5)
shade(b, B_BOT1, "#e0e0e0", "#eaeaea", 5)
shade(b, B_BOT2, "#cccccc")
shade(b, B_K1, "#a8a8a8", "#dcdcdc", 10)
shade(b, B_K2, "#7c7c7c", "#909090", 6)
shade(b, B_K3, "#4c4c4c", "#606060", 8)
shade(b, B_K4, "#1c1c1c", "#303030", 10)
shade(b, B_B3, "#000000", "#0a0a0a", 22)
for pts in (B_GRAY, B_H1, B_H2, B_H3, B_H4, B_H5, B_H6, B_H7, B_H8):
    trace(b, pts, GRAY, 2.0, True)
many(b, [B_K_LEFT, B_K_TOP, B_K1, B_K2, B_K3, B_K4], BLACK, 2.3, True)
many(b, [B_B1, B_B2, B_B3], BLUE)
many(b, [B_R1, B_R2], RED)

# panel C
c = make(40, 30, 0, 30)
shade(c, C_LIGHT, "#ececec", "#f4f4f4", 5)
shade(c, C_K1, "#a8a8a8", "#dcdcdc", 8)
shade(c, C_K2, "#7c7c7c", "#929292", 6)
shade(c, C_K3, "#484848", "#5e5e5e", 10)
shade(c, C_K4, "#1c1c1c", "#2c2c2c", 10)
shade(c, C_CORE, "#000000", "#0c0c0c", 10)
trace(c, C_GRAY, GRAY, 2.0, True)
many(c, [C_K1, C_K2, C_K3, C_K4], BLACK, 2.3, True)
many(c, [C_B1, C_B2, C_B3], BLUE)
many(c, [C_R1, C_R2, C_R3], RED)

# panel D
d = make(38, 0, 0, 30)
for pts in (D_BIG, D_BAND, D_LEFT, D_STREAK1):
    shade(d, pts, "#f1f1f1", "#f6f6f6", 5)
shade(d, D_UL, "#e6e6e6", "#f0f0f0", 6)
shade(d, D_LL1, "#e8e8e8", "#f2f2f2", 6)
shade(d, D_LL2, "#d8d8d8", "#e0e0e0", 5)
shade(d, D_LL3, "#c8c8c8")
shade(d, D_STREAK2, "#dcdcdc", "#e8e8e8", 4)
shade(d, D_STREAK3, "#e4e4e4", "#ececec", 4)
shade(d, D_RHALO, "#d8d8d8", "#eeeeee", 8)
shade(d, D_RK1, "#a4a4a4", "#bcbcbc", 8)
shade(d, D_RK2, "#787878", "#8a8a8a", 6)
shade(d, D_BHALO, "#d4d4d4", "#ececec", 8)
shade(d, D_BK1, "#a8a8a8", "#bcbcbc", 10)
shade(d, D_BK2, "#808080", "#929292", 8)
shade(d, D_BCORE, "#707070", "#787878", 6)
shade(d, D_K1, "#a0a0a0", "#dcdcdc", 8)
shade(d, D_K2, "#6c6c6c", "#848484", 6)
shade(d, D_K3, "#404040", "#565656", 6)
shade(d, D_K4, "#181818", "#2a2a2a", 8)
shade(d, D_CORE, "#000000", "#0a0a0a", 10)
for pts in (D_GRAY, D_G2, D_G3, D_G4, D_G5):
    trace(d, pts, GRAY, 2.0, True)
many(d, [D_RK1, D_RK2, D_BK1, D_BK2, D_K1, D_K2, D_K3, D_K4], BLACK, 2.3, True)
many(d, [D_B1, D_B2, D_B3, D_B4], BLUE)
many(d, [D_R1, D_R2, D_R3], RED)

page = column(row(a, b), row(c, d))
open("out.html", "w").write(file_html(page, INLINE))
